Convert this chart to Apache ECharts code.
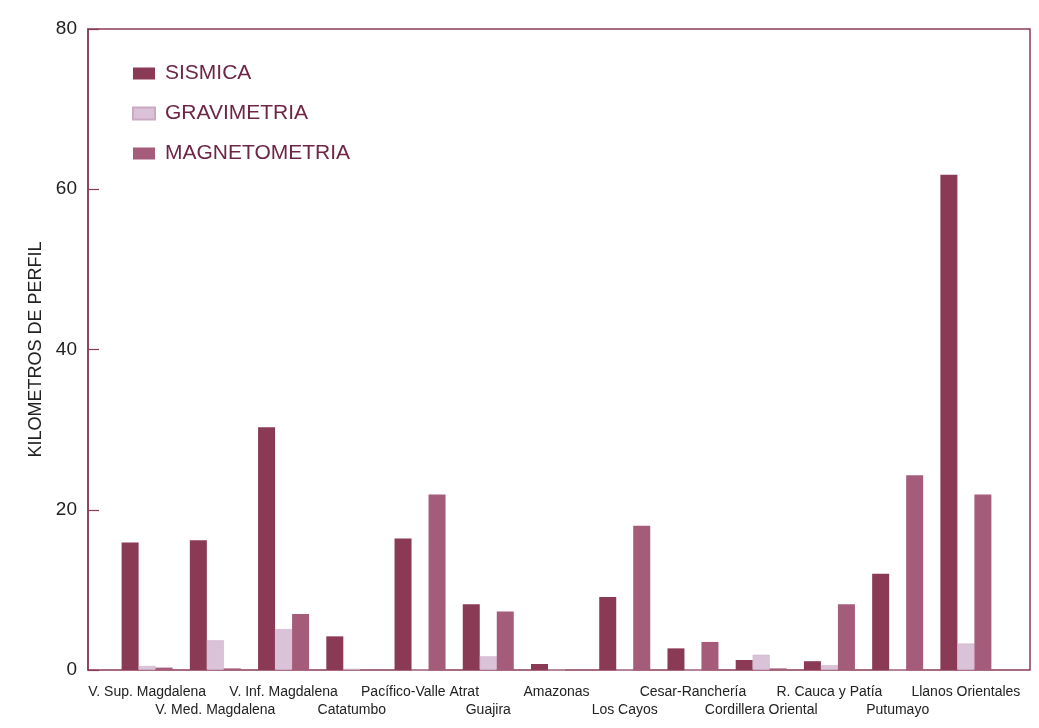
<!DOCTYPE html>
<html>
<head>
<meta charset="utf-8">
<script src="https://cdn.jsdelivr.net/npm/echarts@6/dist/echarts.min.js"></script>
<style>
  html, body { margin: 0; padding: 0; background: #fff; }
  #main { width: 1039px; height: 728px; }
</style>
</head>
<body>
<div id="main"></div>
<script>
// cuencas
var categories = ['V. Sup. Magdalena', 'V. Med. Magdalena', 'V. Inf. Magdalena', 'Catatumbo',
    'Pacífico-Valle Atrat', 'Guajira', 'Amazonas', 'Los Cayos', 'Cesar-Ranchería',
    'Cordillera Oriental', 'R. Cauca y Patía', 'Putumayo', 'Llanos Orientales'];

// kilometros de perfil por metodo
var sismica = [15.9, 16.2, 30.3, 4.2, 16.4, 8.2, 0.75, 9.1, 2.7, 1.25, 1.1, 12.0, 61.8];
var gravimetria = [0.5, 3.7, 5.1, 0.15, 0, 1.7, 0, 0, 0, 1.9, 0.6, 0, 3.3];
var magnetometria = [0.3, 0.2, 7.0, 0, 21.9, 7.3, 0, 18.0, 3.5, 0.2, 8.2, 24.3, 21.9];

var yTicks = [0, 20, 40, 60, 80];

var fontFam = '"Liberation Sans", Arial, sans-serif';
var frameColor = '#8a3a55';

var myChart = echarts.init(document.getElementById('main'));

var option = {
    backgroundColor: '#fff',
    color: ['#8a3a55', '#dac3d8', '#a55c7a'],
    textStyle: { fontFamily: fontFam },
    legend: {
        orient: 'vertical',
        left: 127,
        top: 58,
        icon: 'rect',
        itemWidth: 22,
        itemHeight: 12,
        itemGap: 19,
        textStyle: { fontSize: 21, color: '#6e2646', fontFamily: fontFam, padding: [0, 0, 0, 5] },
        data: ['SISMICA', 'GRAVIMETRIA', 'MAGNETOMETRIA']
    },
    grid: [
        // marco del grafico
        { left: 88, right: 9, top: 29, bottom: 58, show: true, borderColor: frameColor, borderWidth: 1.5 },
        // barras
        { left: 113, right: 39, top: 29, bottom: 58 }
    ],
    xAxis: [{
        gridIndex: 0,
        type: 'value',
        min: 0,
        max: 1,
        show: false
    }, {
        gridIndex: 1,
        type: 'category',
        data: categories,
        axisLine: { show: false },
        axisTick: { show: false },
        axisLabel: {
            interval: 0,
            margin: 13,
            fontSize: 14,
            color: '#222',
            lineHeight: 18,
            formatter: function (value, index) {
                return index % 2 ? '\n' + value : value;
            }
        }
    }],
    yAxis: [{
        gridIndex: 0,
        type: 'value',
        min: yTicks[0],
        max: yTicks[yTicks.length - 1],
        interval: 20,
        name: 'KILOMETROS DE PERFIL',
        nameLocation: 'middle',
        nameGap: 43,
        nameTextStyle: { fontSize: 18, color: '#222', fontFamily: fontFam },
        axisLine: { show: true, lineStyle: { color: frameColor, width: 1.5 } },
        axisTick: { show: true, inside: true, length: 11, lineStyle: { color: frameColor, width: 1.2 } },
        axisLabel: { fontSize: 19, color: '#222', margin: 11 },
        splitLine: { show: false }
    }, {
        gridIndex: 1,
        type: 'value',
        min: yTicks[0],
        max: yTicks[yTicks.length - 1],
        show: false,
        splitLine: { show: false }
    }],
    series: [{
        name: 'SISMICA',
        type: 'bar',
        xAxisIndex: 1,
        yAxisIndex: 1,
        barWidth: 17,
        barGap: '0%',
        data: sismica
    }, {
        name: 'GRAVIMETRIA',
        type: 'bar',
        xAxisIndex: 1,
        yAxisIndex: 1,
        barWidth: 17,
        barGap: '0%',
        itemStyle: { borderColor: '#c9a9c4', borderWidth: 0.5 },
        data: gravimetria
    }, {
        name: 'MAGNETOMETRIA',
        type: 'bar',
        xAxisIndex: 1,
        yAxisIndex: 1,
        barWidth: 17,
        barGap: '0%',
        data: magnetometria
    }]
};

myChart.setOption(option);
</script>
</body>
</html>
